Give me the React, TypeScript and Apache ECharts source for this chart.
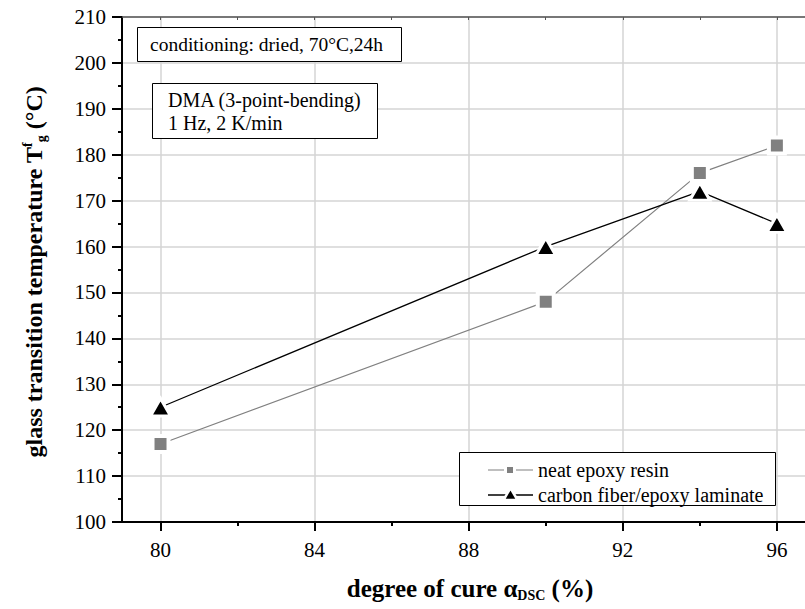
import React, { useEffect, useRef } from "react";
import * as echarts from "echarts";

const cureDegree = [80, 90, 94, 96];
const neatEpoxy = [117, 148, 176, 182];
const carbonLaminate = [125, 160, 172, 165];
const xMajorTicks = [80, 84, 88, 92, 96];
const xMinorTicks = [82, 86, 90, 94];
const yMajorTicks = [100, 110, 120, 130, 140, 150, 160, 170, 180, 190, 200, 210];
const seriesNames = ["neat epoxy resin", "carbon fiber/epoxy laminate"];
const noteConditioning = "conditioning: dried, 70°C,24h";
const noteMethod = ["DMA (3-point-bending)", "1 Hz, 2 K/min"];

const FONT = "Liberation Serif";
const X_MIN = 79;
const X_MAX = 96.73;

export default function App() {
  const ref = useRef<HTMLDivElement>(null);
  useEffect(() => {
    document.body.style.margin = "0";
    const chart = echarts.init(ref.current!, undefined, { renderer: "svg" });
    const gridColor = "#d4d4d4";
    const option: any = {
      animation: false,
      backgroundColor: "#fff",
      grid: { left: 122, top: 17, right: 0, height: 505, containLabel: false },
      xAxis: [
        {
          type: "value", min: X_MIN, max: X_MAX, position: "bottom",
          axisLine: { onZero: false, lineStyle: { color: "#000", width: 2 } },
          axisTick: { customValues: xMajorTicks, length: 9, lineStyle: { color: "#000", width: 2 } },
          axisLabel: { show: false, customValues: xMajorTicks },
          splitLine: { show: true, lineStyle: { color: gridColor, width: 1.5 } },
        },
        {
          type: "value", min: X_MIN, max: X_MAX, position: "bottom",
          axisLine: { show: false, onZero: false },
          axisTick: { customValues: xMinorTicks, length: 4, lineStyle: { color: "#000", width: 2 } },
          axisLabel: { show: false },
          splitLine: { show: false },
        },
        {
          type: "value", min: X_MIN, max: X_MAX, position: "top",
          axisLine: { onZero: false, lineStyle: { color: "#555", width: 1.5 } },
          axisTick: { inside: true, customValues: [...xMajorTicks, ...xMinorTicks], length: 3, lineStyle: { color: "#555", width: 1 } },
          axisLabel: { show: false },
          splitLine: { show: false },
        },
      ],
      yAxis: {
        type: "value", min: 100, max: 210, interval: 10,
        axisLine: { show: true, onZero: false, lineStyle: { color: "#000", width: 2 } },
        axisTick: { show: true, length: 10, lineStyle: { color: "#000", width: 2 } },
        minorTick: { show: true, splitNumber: 2, length: 4, lineStyle: { color: "#000", width: 2 } },
        axisLabel: { show: false },
        splitLine: { show: true, lineStyle: { color: gridColor, width: 1.5 } },
      },
      series: [
        {
          type: "line", name: seriesNames[0], xAxisIndex: 0, yAxisIndex: 0,
          data: cureDegree.map((x, i) => [x, neatEpoxy[i]]),
          symbol: "rect", symbolSize: 16,
          itemStyle: { color: "#808080", borderColor: "#fff", borderWidth: 4 },
          lineStyle: { color: "#808080", width: 1.2 },
          z: 3,
        },
        {
          type: "line", name: seriesNames[1], xAxisIndex: 0, yAxisIndex: 0,
          data: cureDegree.map((x, i) => [x, carbonLaminate[i]]),
          symbol: "triangle", symbolSize: [20, 17.5],
          itemStyle: { color: "#000", borderColor: "#fff", borderWidth: 3 },
          lineStyle: { color: "#000", width: 1.3 },
          z: 4,
        },
      ],
    };
    chart.setOption(option);

    const toPx = (x: number, y: number) =>
      chart.convertToPixel({ xAxisIndex: 0, yAxisIndex: 0 }, [x, y]) as number[];

    const tickText = (x: number, y: number, text: string, align: string) => ({
      type: "text", z: 9, x, y,
      style: { text, fontFamily: FONT, fontSize: 21, fill: "#000", align, verticalAlign: "middle" },
    });

    const yLabels = yMajorTicks.map((v) => {
      const p = toPx(X_MIN, v);
      return tickText(p[0] - 16, p[1], String(v), "right");
    });
    const xLabels = xMajorTicks.map((v) => {
      const p = toPx(v, 100);
      return tickText(p[0], p[1] + 28, String(v), "center");
    });

    const noteText = (x: number, y: number, text: string, size: number) => ({
      type: "text", z: 9, x, y,
      style: { text, fontFamily: FONT, fontSize: size, fill: "#000", verticalAlign: "middle", align: "left" },
    });

    const legendRows = [470, 495];
    const legendEls: any[] = [
      { type: "rect", z: 8, shape: { x: 459.5, y: 452.5, width: 316, height: 53 }, style: { fill: "#fff", stroke: "#000", lineWidth: 1 } },
      { type: "line", z: 9, shape: { x1: 488, y1: legendRows[0], x2: 533, y2: legendRows[0] }, style: { stroke: "#808080", lineWidth: 1.2 } },
      { type: "rect", z: 10, shape: { x: 505.5, y: legendRows[0] - 4.5, width: 9, height: 9 }, style: { fill: "#808080", stroke: "#fff", lineWidth: 3 } },
      noteText(538, legendRows[0], seriesNames[0], 20),
      { type: "line", z: 9, shape: { x1: 488, y1: legendRows[1], x2: 533, y2: legendRows[1] }, style: { stroke: "#000", lineWidth: 1.3 } },
      {
        type: "polygon", z: 10,
        shape: { points: [[510.5, legendRows[1] - 7], [517.5, legendRows[1] + 5], [503.5, legendRows[1] + 5]] },
        style: { fill: "#000", stroke: "#fff", lineWidth: 2.5 },
      },
      noteText(538, legendRows[1], seriesNames[1], 20),
    ];

    chart.setOption({
      graphic: [
        ...yLabels,
        ...xLabels,
        { type: "rect", z: 8, shape: { x: 137.5, y: 27.5, width: 264, height: 34 }, style: { fill: "#fff", stroke: "#000", lineWidth: 1 } },
        noteText(150, 44, noteConditioning, 19.5),
        { type: "rect", z: 8, shape: { x: 152.5, y: 83.5, width: 225, height: 55 }, style: { fill: "#fff", stroke: "#000", lineWidth: 1 } },
        noteText(168, 100, noteMethod[0], 20),
        noteText(168, 123, noteMethod[1], 20),
        ...legendEls,
        {
          type: "text", z: 9, x: 34, y: 272, rotation: Math.PI / 2,
          style: {
            text: "{m|glass transition temperature T}{sup|f}{sub|g}{m| (°C)}",
            align: "center", verticalAlign: "middle",
            rich: {
              m: { fontFamily: FONT, fontWeight: "bold", fontSize: 24, lineHeight: 28, fill: "#000", verticalAlign: "middle" },
              sup: { fontFamily: FONT, fontWeight: "bold", fontSize: 14, lineHeight: 14, fill: "#000", verticalAlign: "top" },
              sub: { fontFamily: FONT, fontWeight: "bold", fontSize: 14, lineHeight: 12, fill: "#000", verticalAlign: "bottom" },
            },
          },
        },
        {
          type: "text", z: 9, x: 470, y: 588,
          style: {
            text: "{m|degree of cure α}{sub|DSC}{m| (%)}",
            align: "center", verticalAlign: "middle",
            rich: {
              m: { fontFamily: FONT, fontWeight: "bold", fontSize: 25, lineHeight: 28, fill: "#000", verticalAlign: "middle" },
              sub: { fontFamily: FONT, fontWeight: "bold", fontSize: 14, lineHeight: 12, fill: "#000", verticalAlign: "bottom" },
            },
          },
        },
      ],
    });
    return () => chart.dispose();
  }, []);
  return <div ref={ref} style={{ width: 805, height: 609 }} />;
}
